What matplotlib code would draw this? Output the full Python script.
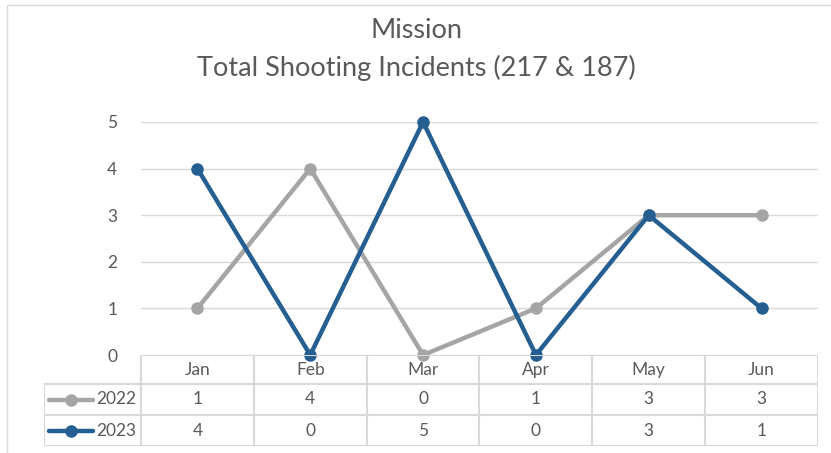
"""Mission shooting incidents line chart with data table."""

import matplotlib
import matplotlib.pyplot as plt
from matplotlib.patches import Rectangle

matplotlib.use("Agg")

months = ["Jan", "Feb", "Mar", "Apr", "May", "Jun"]
series_names = ["2022", "2023"]
values_2022 = [1, 4, 0, 1, 3, 3]
values_2023 = [4, 0, 5, 0, 3, 1]
colors = ["#A5A5A5", "#255E91"]

W, H = 831, 453
TEXT = "#595959"
GRID = "#D9D9D9"
FS = 12.5
plt.rcParams["font.family"] = ["Lato", "DejaVu Sans"]

fig = plt.figure(figsize=(W / 100, H / 100), dpi=100)


def fx(px):
    return px / W


def fy(py):
    return 1 - py / H


# outer chart border (right and bottom edges fall outside the picture)
fig.patches.append(Rectangle((fx(7), fy(470)), fx(850) - fx(7), fy(5) - fy(470),
                             transform=fig.transFigure, fill=False,
                             edgecolor=GRID, linewidth=1))

# main plot area
left, right, top, bottom = 141, 818, 122, 355
ax = fig.add_axes([fx(left), fy(bottom), fx(right) - fx(left), fy(top) - fy(bottom)])
x = list(range(len(months)))
for vals, c in zip([values_2022, values_2023], colors):
    ax.plot(x, vals, color=c, linewidth=3.2, marker="o", markersize=8,
            clip_on=False, zorder=3, solid_joinstyle="miter")
ax.set_xlim(-0.5, 5.5)
ax.set_ylim(0, 5)
ax.set_yticks(range(6))
ax.yaxis.grid(True, color=GRID, linewidth=1)
ax.tick_params(axis="y", length=0, pad=17, labelsize=FS, labelcolor=TEXT)
ax.set_xticks([])
for s in ax.spines.values():
    s.set_visible(False)
ax.set_axisbelow(True)

fig.text(fx(416), fy(30), "Mission", ha="center", va="center", fontsize=19.5, color=TEXT)
fig.text(fx(416), fy(68), "Total Shooting Incidents (217 & 187)", ha="center",
         va="center", fontsize=19.5, color=TEXT)

# data table below the plot
col_w = (right - left) / 6
tab_left, tab_bottom = 44, 446
tax = fig.add_axes([fx(tab_left), fy(tab_bottom), fx(right) - fx(tab_left),
                    fy(bottom) - fy(tab_bottom)])
lead = (left - tab_left) / col_w
tax.set_xlim(-0.5 - lead, 5.5)
tax.set_ylim(tab_bottom, bottom)
tax.axis("off")

rows = [bottom, 384, 415, tab_bottom]
lw = 1.5
# horizontal lines
tax.plot([-0.5, 5.5], [rows[0], rows[0]], color=GRID, lw=lw)
for r in rows[1:]:
    tax.plot([-0.5 - lead, 5.5], [r, r], color=GRID, lw=lw)
# vertical lines
for i in range(7):
    tax.plot([i - 0.5, i - 0.5], [rows[0], rows[3]], color=GRID, lw=lw)
tax.plot([-0.5 - lead, -0.5 - lead], [rows[1], rows[3]], color=GRID, lw=lw)

for i, m in enumerate(months):
    tax.text(i, (rows[0] + rows[1]) / 2 + 1, m, ha="center", va="center",
             fontsize=FS, color=TEXT)
for k, (name, vals, c) in enumerate(zip(series_names, [values_2022, values_2023], colors)):
    yc = (rows[k + 1] + rows[k + 2]) / 2
    for i, v in enumerate(vals):
        tax.text(i, yc, str(v), ha="center", va="center", fontsize=FS, color=TEXT)
    x0 = -0.5 - lead + 5 / col_w
    x1 = -0.5 - lead + 49 / col_w
    tax.plot([x0, x1], [yc, yc], color=c, lw=3.2, solid_capstyle="round")
    tax.plot([(x0 + x1) / 2], [yc], color=c, marker="o", markersize=8)
    tax.text(-0.5 - 5 / col_w, yc, name, ha="right", va="center", fontsize=FS, color=TEXT)

fig.savefig("out.png", dpi=100)
